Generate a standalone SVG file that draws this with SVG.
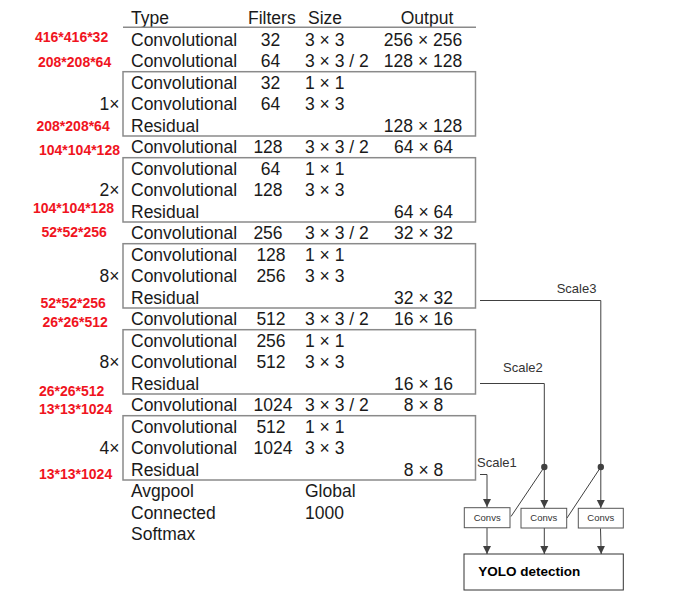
<svg xmlns="http://www.w3.org/2000/svg" width="697" height="611" viewBox="0 0 697 611">
<style>
.t{font-family:"Liberation Sans",Arial,sans-serif;font-size:17.5px;fill:#1a1a1a}
.m{text-anchor:middle}
.r{font-family:"Liberation Sans",Arial,sans-serif;font-size:14px;font-weight:bold;fill:#f0141e}
.bx{fill:none;stroke:#8a8a8a;stroke-width:1.5}
.hl{stroke:#8a8a8a;stroke-width:1.5}
.c{fill:none;stroke:#404040;stroke-width:1}
.s{font-family:"Liberation Sans",Arial,sans-serif;font-size:13px;fill:#333}
.nb{fill:#fff;stroke:#555;stroke-width:1}
.nl{font-family:"Liberation Sans",Arial,sans-serif;font-size:9.5px;fill:#333;text-anchor:middle}
</style>
<defs>
<marker id="ah" markerWidth="9" markerHeight="9" refX="8" refY="4.5" orient="auto" markerUnits="userSpaceOnUse">
<path d="M0,0.5 L8,4.5 L0,8.5 z" fill="#404040"/>
</marker>
</defs>
<rect width="697" height="611" fill="#fff"/>
<g id="table">
<text class="t" x="131" y="24">Type</text>
<text class="t" x="248" y="24">Filters</text>
<text class="t" x="308" y="24">Size</text>
<text class="t m" x="427" y="24">Output</text>
<line class="hl" x1="123" y1="27.3" x2="476" y2="27.3"/>
<rect class="bx" x="123" y="71.7" width="352.5" height="64.3"/>
<rect class="bx" x="123" y="157.7" width="352.5" height="64.3"/>
<rect class="bx" x="123" y="243.7" width="352.5" height="64.3"/>
<rect class="bx" x="123" y="329.7" width="352.5" height="64.3"/>
<rect class="bx" x="123" y="415.7" width="352.5" height="64.3"/>
<g id="col-type">
<text class="t" x="131" y="45.5">Convolutional</text>
<text class="t" x="131" y="67">Convolutional</text>
<text class="t" x="131" y="88.5">Convolutional</text>
<text class="t" x="131" y="110">Convolutional</text>
<text class="t" x="131" y="131.5">Residual</text>
<text class="t" x="131" y="153">Convolutional</text>
<text class="t" x="131" y="174.5">Convolutional</text>
<text class="t" x="131" y="196">Convolutional</text>
<text class="t" x="131" y="217.5">Residual</text>
<text class="t" x="131" y="239">Convolutional</text>
<text class="t" x="131" y="260.5">Convolutional</text>
<text class="t" x="131" y="282">Convolutional</text>
<text class="t" x="131" y="303.5">Residual</text>
<text class="t" x="131" y="325">Convolutional</text>
<text class="t" x="131" y="346.5">Convolutional</text>
<text class="t" x="131" y="368">Convolutional</text>
<text class="t" x="131" y="389.5">Residual</text>
<text class="t" x="131" y="411">Convolutional</text>
<text class="t" x="131" y="432.5">Convolutional</text>
<text class="t" x="131" y="454">Convolutional</text>
<text class="t" x="131" y="475.5">Residual</text>
<text class="t" x="131" y="497">Avgpool</text>
<text class="t" x="131" y="518.5">Connected</text>
<text class="t" x="131" y="540">Softmax</text>
</g>
<g id="col-filters">
<text class="t m" x="270.5" y="45.5">32</text>
<text class="t m" x="270.5" y="67">64</text>
<text class="t m" x="270.5" y="88.5">32</text>
<text class="t m" x="270.5" y="110">64</text>
<text class="t m" x="268" y="153">128</text>
<text class="t m" x="270.5" y="174.5">64</text>
<text class="t m" x="268" y="196">128</text>
<text class="t m" x="268" y="239">256</text>
<text class="t m" x="271" y="260.5">128</text>
<text class="t m" x="271" y="282">256</text>
<text class="t m" x="271" y="325">512</text>
<text class="t m" x="271" y="346.5">256</text>
<text class="t m" x="271" y="368">512</text>
<text class="t m" x="273" y="411">1024</text>
<text class="t m" x="271" y="432.5">512</text>
<text class="t m" x="273" y="454">1024</text>
</g>
<g id="col-size">
<text class="t" x="305" y="45.5">3 × 3</text>
<text class="t" x="305" y="67">3 × 3 / 2</text>
<text class="t" x="305" y="88.5">1 × 1</text>
<text class="t" x="305" y="110">3 × 3</text>
<text class="t" x="305" y="153">3 × 3 / 2</text>
<text class="t" x="305" y="174.5">1 × 1</text>
<text class="t" x="305" y="196">3 × 3</text>
<text class="t" x="305" y="239">3 × 3 / 2</text>
<text class="t" x="305" y="260.5">1 × 1</text>
<text class="t" x="305" y="282">3 × 3</text>
<text class="t" x="305" y="325">3 × 3 / 2</text>
<text class="t" x="305" y="346.5">1 × 1</text>
<text class="t" x="305" y="368">3 × 3</text>
<text class="t" x="305" y="411">3 × 3 / 2</text>
<text class="t" x="305" y="432.5">1 × 1</text>
<text class="t" x="305" y="454">3 × 3</text>
<text class="t" x="305" y="497">Global</text>
<text class="t" x="305" y="518.5">1000</text>
</g>
<g id="col-output">
<text class="t m" x="423" y="45.5">256 × 256</text>
<text class="t m" x="423" y="67">128 × 128</text>
<text class="t m" x="423" y="131.5">128 × 128</text>
<text class="t m" x="423.5" y="153">64 × 64</text>
<text class="t m" x="423.5" y="217.5">64 × 64</text>
<text class="t m" x="423.5" y="239">32 × 32</text>
<text class="t m" x="423.5" y="303.5">32 × 32</text>
<text class="t m" x="423.5" y="325">16 × 16</text>
<text class="t m" x="423.5" y="389.5">16 × 16</text>
<text class="t m" x="423.5" y="411">8 × 8</text>
<text class="t m" x="423.5" y="475.5">8 × 8</text>
</g>
<g id="repeats">
<text class="t" x="119.5" y="110" text-anchor="end">1×</text>
<text class="t" x="119.5" y="196" text-anchor="end">2×</text>
<text class="t" x="119.5" y="282" text-anchor="end">8×</text>
<text class="t" x="119.5" y="368" text-anchor="end">8×</text>
<text class="t" x="119.5" y="454" text-anchor="end">4×</text>
</g>
</g>
<g id="shapes">
<text class="r" x="35" y="41.7">416*416*32</text>
<text class="r" x="38" y="66.5">208*208*64</text>
<text class="r" x="36.5" y="130.7">208*208*64</text>
<text class="r" x="39" y="155">104*104*128</text>
<text class="r" x="33" y="212.7">104*104*128</text>
<text class="r" x="41.5" y="236.7">52*52*256</text>
<text class="r" x="40.5" y="308.3">52*52*256</text>
<text class="r" x="42.5" y="326.7">26*26*512</text>
<text class="r" x="39" y="395.7">26*26*512</text>
<text class="r" x="39" y="414.3">13*13*1024</text>
<text class="r" x="39" y="479.3">13*13*1024</text>
</g>
<g id="connectors">
<path class="c" d="M480,474.5 H487 V507" marker-end="url(#ah)"/>
<path class="c" d="M480,383.5 H544.3 V508" marker-end="url(#ah)"/>
<path class="c" d="M480,300.5 H600.8 V508" marker-end="url(#ah)"/>
<path class="c" d="M544.3,467 L511,516.5"/>
<path class="c" d="M600.8,467 L567,518"/>
<circle cx="544.3" cy="467" r="3.2" fill="#404040"/>
<circle cx="600.8" cy="467" r="3.2" fill="#404040"/>
<path class="c" d="M487,528 V554" marker-end="url(#ah)"/>
<path class="c" d="M544.3,528 V554" marker-end="url(#ah)"/>
<path class="c" d="M600.5,528.5 L601.2,554" marker-end="url(#ah)"/>
<text class="s" x="477" y="466.7">Scale1</text>
<text class="s" x="503" y="371.7">Scale2</text>
<text class="s" x="556.7" y="292.7">Scale3</text>
</g>
<g id="convs1">
<rect class="nb" x="464.3" y="507.7" width="45.7" height="20"/>
<text class="nl" x="487.2" y="520.7">Convs</text>
</g>
<g id="convs2">
<rect class="nb" x="521" y="508.3" width="45.7" height="19.7"/>
<text class="nl" x="543.8" y="521">Convs</text>
</g>
<g id="convs3">
<rect class="nb" x="578.3" y="508.3" width="45" height="19.7"/>
<text class="nl" x="600.8" y="521">Convs</text>
</g>
<g id="yolo">
<rect x="464" y="554" width="159.3" height="36" fill="#fff" stroke="#333" stroke-width="1"/>
<text x="478.3" y="575.5" font-family="Liberation Sans, Arial, sans-serif" font-size="13.5" font-weight="bold" fill="#000">YOLO detection</text>
</g>
</svg>
